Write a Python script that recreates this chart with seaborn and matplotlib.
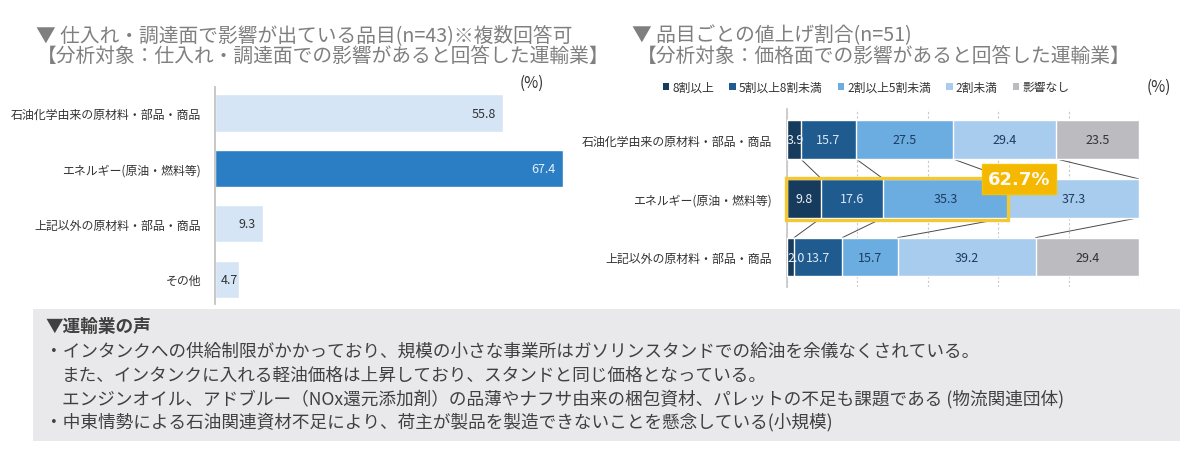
import numpy as np
import pandas as pd
import matplotlib
matplotlib.use("Agg")
import matplotlib.pyplot as plt
import seaborn as sns
from matplotlib.patches import Rectangle, Patch

sns.set_theme(style="white")
plt.rcParams["font.family"] = ["Noto Sans CJK JP", "DejaVu Sans"]

# ---------------- data ----------------
left_items = ["石油化学由来の原材料・部品・商品", "エネルギー(原油・燃料等)",
              "上記以外の原材料・部品・商品", "その他"]
left_share = [55.8, 67.4, 9.3, 4.7]

right_items = ["石油化学由来の原材料・部品・商品", "エネルギー(原油・燃料等)",
               "上記以外の原材料・部品・商品"]
band_labels = ["8割以上", "5割以上8割未満", "2割以上5割未満", "2割未満", "影響なし"]
band_over80 = [3.9, 9.8, 2.0]
band_50_80 = [15.7, 17.6, 13.7]
band_20_50 = [27.5, 35.3, 15.7]
band_under20 = [29.4, 37.3, 39.2]
band_none = [23.5, 0.0, 29.4]

voices = [
    "・インタンクへの供給制限がかかっており、規模の小さな事業所はガソリンスタンドでの給油を余儀なくされている。",
    "また、インタンクに入れる軽油価格は上昇しており、スタンドと同じ価格となっている。",
    "エンジンオイル、アドブルー（NOx還元添加剤）の品薄やナフサ由来の梱包資材、パレットの不足も課題である (物流関連団体)",
    "・中東情勢による石油関連資材不足により、荷主が製品を製造できないことを懸念している(小規模)",
]

# ---------------- styles ----------------
W, H = 1200, 452
def fx(px):
    return px / W
def fy(py):
    return 1 - py / H

title_c = "#7f7f7f"
text_c = "#333333"
band_colors = ["#173b5c", "#1f5b8e", "#6bade1", "#a8cced", "#bcbcc0"]
band_text = ["#e8f0f8", "#dce9f5", "#1f3a5f", "#1f3a5f", "#333333"]

fig = plt.figure(figsize=(12, 4.52), dpi=100)

# ---------------- titles ----------------
fig.text(fx(36), fy(36), "▼ 仕入れ・調達面で影響が出ている品目(n=43)※複数回答可",
         fontsize=14.2, color=title_c, va="center", ha="left")
fig.text(fx(37), fy(57), "【分析対象：仕入れ・調達面での影響があると回答した運輸業】",
         fontsize=14.2, color=title_c, va="center", ha="left")
fig.text(fx(632), fy(36), "▼ 品目ごとの値上げ割合(n=51)",
         fontsize=14.2, color=title_c, va="center", ha="left")
fig.text(fx(637), fy(57), "【分析対象：価格面での影響があると回答した運輸業】",
         fontsize=14.2, color=title_c, va="center", ha="left")
fig.text(fx(520), fy(83), "(%)", fontsize=11, color=text_c, va="center", ha="left")
fig.text(fx(1147), fy(87), "(%)", fontsize=11, color=text_c, va="center", ha="left")

# ---------------- left chart ----------------
axL = fig.add_axes([fx(215), fy(305), fx(600 - 215), (305 - 88) / H])
dfL = pd.DataFrame({"item": left_items, "share": left_share})
pal = {it: ("#2b7ec3" if i == 1 else "#d5e5f5") for i, it in enumerate(left_items)}
sns.barplot(data=dfL, y="item", x="share", hue="item", palette=pal, legend=False,
            orient="h", width=0.67, saturation=1, errorbar=None, ax=axL)
axL.set_xlim(0, 74.5)
axL.set_ylim(3.45, -0.47)
for s in ["top", "right", "bottom"]:
    axL.spines[s].set_visible(False)
axL.spines["left"].set_color("#c0c0c0")
axL.set_xticks([])
axL.set_xlabel("")
axL.set_ylabel("")
axL.tick_params(axis="y", length=0, pad=10, labelsize=8.6, labelcolor=text_c)
for i, v in enumerate(left_share):
    col = "#e6f0fa" if i == 1 else "#333333"
    if v < 6:
        axL.annotate(f"{v:.1f}", xy=(0, i), xytext=(4, 0), textcoords="offset points",
                     ha="left", va="center", fontsize=9, color=col)
    else:
        axL.annotate(f"{v:.1f}", xy=(v, i), xytext=(-5.5, 0), textcoords="offset points",
                     ha="right", va="center", fontsize=9, color=col)

# ---------------- right chart ----------------
axR = fig.add_axes([fx(787), fy(288), fx(1139 - 787), (288 - 110) / H])
vals = np.array([band_over80, band_50_80, band_20_50, band_under20, band_none]).T
cum = vals.cumsum(axis=1)
bar_h = 0.66
for k in reversed(range(vals.shape[1])):
    sns.barplot(x=cum[:, k], y=right_items, color=band_colors[k], orient="h",
                width=bar_h, saturation=1, errorbar=None, ax=axR, zorder=3)
axR.set_xlim(0, 100)
axR.set_ylim(2.51, -0.52)
axR.set_xticks([0, 20, 40, 60, 80, 100])
axR.xaxis.grid(True, linestyle=(0, (2, 2)), color="#c8c8c8", linewidth=0.8)
axR.set_axisbelow(True)
axR.tick_params(axis="x", labelbottom=False, length=0)
for s in ["top", "right", "bottom"]:
    axR.spines[s].set_visible(False)
axR.spines["left"].set_color("#c8c8c8")
axR.set_xlabel("")
axR.set_ylabel("")
axR.tick_params(axis="y", length=0, pad=11, labelsize=8.6, labelcolor=text_c)

# segment labels
for r in range(vals.shape[0]):
    start = 0.0
    for k in range(vals.shape[1]):
        v = vals[r, k]
        if v > 0:
            if v < 5:
                axR.text(start, r, f"{v:.1f}", ha="left", va="center",
                         fontsize=9, color=band_text[k], zorder=6)
            else:
                axR.text(start + v / 2, r, f"{v:.1f}", ha="center", va="center",
                         fontsize=9, color=band_text[k], zorder=6)
        start += v

# series lines between rows
for k in range(vals.shape[1] - 1):
    for r in range(vals.shape[0] - 1):
        axR.plot([cum[r, k], cum[r + 1, k]], [r + bar_h / 2, r + 1 - bar_h / 2],
                 color="#4a4a4a", lw=0.7, zorder=2)

# highlight of row 2 (first three bands)
hl = cum[1, 2]
axR.add_patch(Rectangle((-0.4, 1 - 0.34), hl + 0.4, 0.71, fill=False,
                        edgecolor="#f2c935", lw=2.4, zorder=7, clip_on=False))
axR.text(66.0, 0.67, f"{hl:.1f}%", ha="center", va="center", fontsize=13,
         fontweight="bold", color="#fffaf0", family=["DejaVu Sans"], zorder=8,
         bbox=dict(boxstyle="square,pad=0.32", fc="#f5b800", ec="#f5c400", lw=1))

# legend
handles = [Patch(facecolor=c, edgecolor="none") for c in band_colors]
leg = fig.legend(handles, band_labels, loc="center", bbox_to_anchor=(fx(866), fy(88)),
                 ncol=5, frameon=False, fontsize=8.5, handlelength=0.55,
                 handleheight=0.55, handletextpad=0.25, columnspacing=1.3)
for t in leg.get_texts():
    t.set_color(text_c)

# ---------------- bottom voice box ----------------
fig.add_artist(Rectangle((fx(33), fy(442)), fx(1180 - 33), (442 - 310) / H,
                         transform=fig.transFigure, facecolor="#e9e9eb",
                         edgecolor="none", zorder=0))
voice_c = "#404040"
fig.text(fx(45), fy(327), "▼運輸業の声", fontsize=12.7, fontweight="bold",
         color=voice_c, va="center", ha="left")
line_y = [352, 376, 399, 422]
line_x = [45, 62, 62, 45]
for txt, xx, yy in zip(voices, line_x, line_y):
    fig.text(fx(xx), fy(yy), txt, fontsize=12.7, color=voice_c, va="center", ha="left")

fig.savefig("out.png", dpi=100)
